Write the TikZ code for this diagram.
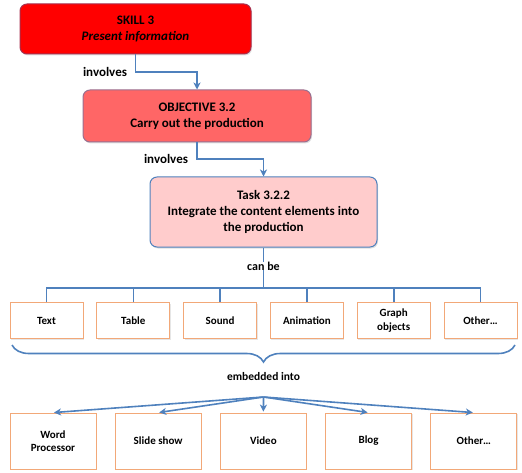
\documentclass[tikz,border=0pt]{standalone}
\usepackage{fontspec}
\setmainfont{Carlito}
\usetikzlibrary{arrows.meta,decorations.pathreplacing,shadows}
\definecolor{linkblue}{HTML}{4F81BD}
\definecolor{skillred}{HTML}{FF0000}
\definecolor{skillline}{HTML}{A8304E}
\definecolor{objred}{HTML}{FF6666}
\definecolor{objline}{HTML}{9A7090}
\definecolor{taskpink}{HTML}{FFCCCC}
\definecolor{itemline}{HTML}{F2A878}
\begin{document}
\begin{tikzpicture}
    [
    x=1pt, y=-1pt,
    every node/.style={font=\bfseries\fontsize{13}{16}\selectfont, align=center, inner sep=0pt},
    goal/.style={draw, rounded corners=7pt, line width=1pt,
      drop shadow={opacity=0.25, shadow xshift=1pt, shadow yshift=-1.5pt}},
    skillbox/.style={goal, fill=skillred, draw=skillline, minimum width=231pt, minimum height=50pt},
    objbox/.style={goal, fill=objred, draw=objline, minimum width=228pt, minimum height=52pt},
    taskbox/.style={goal, fill=taskpink, draw=linkblue, minimum width=227pt, minimum height=70pt},
    item/.style={draw=itemline, fill=white, line width=0.8pt,
      font=\bfseries\fontsize{11}{13.5}\selectfont,
      drop shadow={opacity=0.2, shadow xshift=1pt, shadow yshift=-1pt}},
    part/.style={item, minimum width=73pt, minimum height=36pt},
    media/.style={item, minimum width=86pt, minimum height=56pt},
    link/.style={draw=linkblue, line width=1.6pt},
    tip/.style={link, -{Stealth[length=7pt, width=7pt, inset=2pt]}},
    ]
    \useasboundingbox (0,0) rectangle (522,473);
    % top chain
    \node[skillbox] (skill) at (135.5,29) {SKILL 3\\\textit{Present information}};
    \node[objbox] (obj) at (197,116) {OBJECTIVE 3.2\\Carry out the production};
    \node[taskbox] (task) at (263.5,212) {Task 3.2.2\\Integrate the content elements into\\the production};
    \node (inv1) at (105,72) {involves};
    \node (inv2) at (166,159) {involves};
    \coordinate (bend1) at (135.5,72);
    \coordinate (bend2) at (197,159);
    \draw[tip] (skill.south) -- (bend1) -| (obj.north);
    \draw[tip] (obj.south) -- (bend2) -| (task.north);
    % can be
    \node[font=\bfseries\fontsize{12}{14}\selectfont] (canbe) at (263.5,266) {can be};
    \draw[link] (task.south) -- (canbe.north);
    \coordinate (bus) at (263.5,288);
    \draw[link] (canbe.south) -- (bus);
    \foreach \name/\txt [count=\i from 0] in {text/Text, table/Table, sound/Sound,
      anim/Animation, graph/{Graph\\objects}, other/Other\ldots}
      \node[part] (\name) at (46.5+86.8*\i,320.5) {\txt};
    \draw[link] (text.north) |- (bus) -| (other.north);
    \foreach \name in {table,sound,anim,graph}
      \draw[link] (\name.north) -- (\name.north |- bus);
    % embedded into
    \coordinate (left) at (12,345);
    \coordinate (right) at (515,345);
    \draw[link, decorate, decoration={brace, mirror, amplitude=17pt, aspect=0.5}] (left) -- (right);
    \node[font=\bfseries\fontsize{11.5}{14}\selectfont] (embed) at (263.5,377) {embedded into};
    \coordinate (root) at (263.5,397);
    \foreach \name/\txt [count=\i from 0] in {word/{Word\\Processor}, slide/Slide show,
      video/Video, blog/Blog, more/Other\ldots}
      \node[media] (\name) at (53+105.2*\i,441) {\txt};
    \foreach \name in {word,slide,video,blog,more}
      \draw[tip, shorten >=1pt] (root) -- (\name.north);
  \end{tikzpicture}
\end{document}
